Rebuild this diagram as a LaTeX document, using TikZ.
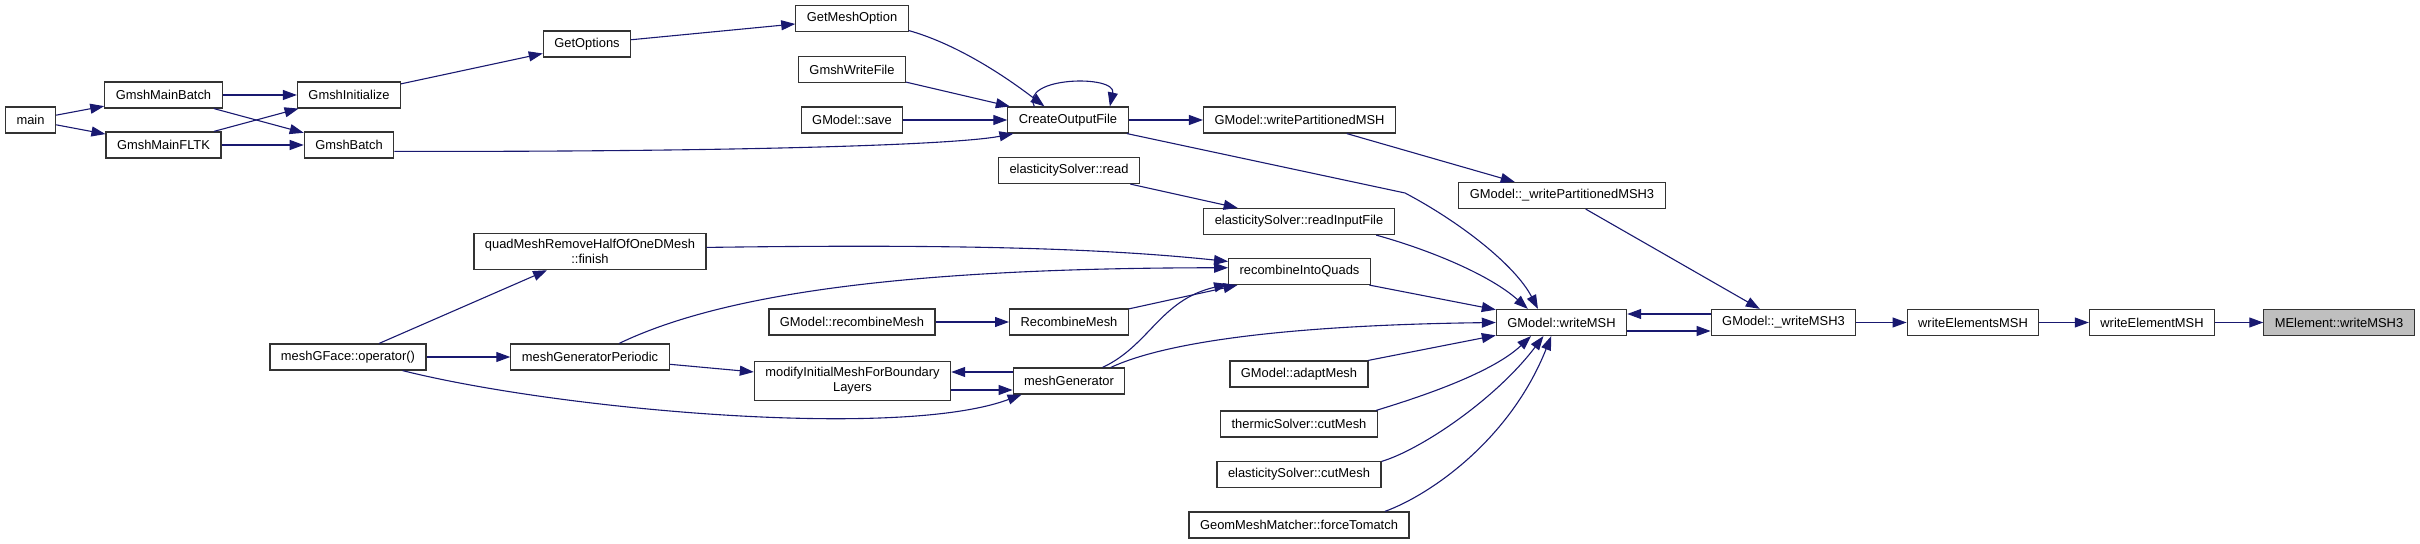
\documentclass[tikz,border=0pt]{standalone}
\usepackage{fontspec}
\setmainfont{Liberation Sans}
\usetikzlibrary{arrows.meta}
\definecolor{edgeblue}{HTML}{191970}

\begin{document}
\begin{tikzpicture}[
    x=0.5pt, y=-0.5pt,
    >={Triangle[length=7pt,width=5pt]},
    fnbox/.style={draw=black!80, line width=0.6pt, fill=white,
        font=\fontsize{6.45}{7.4}\selectfont, inner xsep=5.5pt, inner ysep=3pt,
        minimum height=13pt, align=center},
    fncur/.style={fnbox, fill=black!25},
    callarrow/.style={->, draw=edgeblue, line width=0.55pt},
]
\useasboundingbox (0,0) rectangle (2420,544);

% Nodes, left to right
\node[fnbox] (main) at (30.5,120) {main};
\node[fnbox] (gmb) at (163.5,95) {GmshMainBatch};
\node[fnbox] (gmf) at (163.5,145) {GmshMainFLTK};
\node[fnbox] (ginit) at (349,95) {GmshInitialize};
\node[fnbox] (gbatch) at (349,145) {GmshBatch};
\node[fnbox] (getopt) at (587,44) {GetOptions};
\node[fnbox] (getmesh) at (852,18.5) {GetMeshOption};
\node[fnbox] (gwrite) at (852,69.5) {GmshWriteFile};
\node[fnbox] (gsave) at (852,120) {GModel::save};
\node[fnbox] (cof) at (1068,120) {CreateOutputFile};
\node[fnbox] (wpmsh) at (1299.5,120) {GModel::writePartitionedMSH};
\node[fnbox] (esread) at (1069,170.5) {elasticitySolver::read};
\node[fnbox] (wpmsh3) at (1562,195.5) {GModel::\_writePartitionedMSH3};
\node[fnbox] (esinput) at (1299,221.5) {elasticitySolver::readInputFile};
\node[fnbox] (quad) at (590,251.5) {quadMeshRemoveHalfOfOneDMesh\\::finish};
\node[fnbox] (riq) at (1299.5,271.5) {recombineIntoQuads};
\node[fnbox] (grecomb) at (852,322) {GModel::recombineMesh};
\node[fnbox] (recomb) at (1069,322) {RecombineMesh};
\node[fnbox] (wmsh) at (1561.5,322.5) {GModel::writeMSH};
\node[fnbox] (wmsh3) at (1783.5,322.5) {GModel::\_writeMSH3};
\node[fnbox] (welems) at (1973,322.5) {writeElementsMSH};
\node[fnbox] (welem) at (2152,322.5) {writeElementMSH};
\node[fncur] (melem) at (2339,322.5) {MElement::writeMSH3};
\node[fnbox] (mgface) at (348,357) {meshGFace::operator()};
\node[fnbox] (mgper) at (590,357) {meshGeneratorPeriodic};
\node[fnbox] (modinit) at (852.5,381) {modifyInitialMeshForBoundary\\Layers};
\node[fnbox] (mgen) at (1069,381) {meshGenerator};
\node[fnbox] (adapt) at (1299,374) {GModel::adaptMesh};
\node[fnbox] (thermic) at (1299,424) {thermicSolver::cutMesh};
\node[fnbox] (escut) at (1299,474.5) {elasticitySolver::cutMesh};
\node[fnbox] (geomm) at (1299,525) {GeomMeshMatcher::forceTomatch};

% main and the batch / GUI entry points
\draw[callarrow] (main) -- (gmb);
\draw[callarrow] (main) -- (gmf);
\draw[callarrow] (gmb) -- (ginit);
\draw[callarrow] (gmb) -- (gbatch);
\draw[callarrow] (gmf) -- (ginit);
\draw[callarrow] (gmf) -- (gbatch);
\draw[callarrow] (ginit) -- (getopt);
\draw[callarrow] (getopt) -- (getmesh);

% into CreateOutputFile
\draw[callarrow] (getmesh.-12) .. controls (960,45) and (1010,80) .. (cof.150);
\draw[callarrow] (gwrite) -- (cof);
\draw[callarrow] (gsave) -- (cof);
\draw[callarrow] (gbatch.-8) .. controls (700,152) and (950,146) .. (cof.194);
\draw[callarrow] (cof.158) .. controls +(-15,-30) and +(7,-32) .. (cof.18);
\draw[callarrow] (cof) -- (wpmsh);
\draw[callarrow] (cof.-13) -- (1405,193) .. controls (1460,222) and (1515,265) .. (wmsh.150);

% partitioned writer
\draw[callarrow] (wpmsh) -- (wpmsh3);
\draw[callarrow] (wpmsh3) -- (wmsh3);
\draw[callarrow] (esread) -- (esinput);
\draw[callarrow] (esinput.-10) .. controls (1430,250) and (1490,275) .. (wmsh.158);

% recombination callers
\draw[callarrow] (quad.2) .. controls (950,244) and (1100,248) .. (riq.172);
\draw[callarrow] (mgper.25) .. controls (720,295) and (900,268) .. (riq.177);
\draw[callarrow] (recomb) -- (riq);
\draw[callarrow] (mgen.22) .. controls (1150,345) and (1160,300) .. (riq.190);
\draw[callarrow] (grecomb) -- (recomb);
\draw[callarrow] (riq) -- (wmsh);
\draw[callarrow] (mgen.18) .. controls (1170,340) and (1300,325) .. (wmsh.west);

% meshGFace branch
\draw[callarrow] (mgface) -- (quad);
\draw[callarrow] (mgface) -- (mgper);
\draw[callarrow] (mgface.-14) .. controls (560,410) and (900,440) .. (mgen.196);
\draw[callarrow] (mgper) -- (modinit);
\draw[callarrow] ([yshift=-4.5pt]modinit.east) -- ([yshift=-4.5pt]mgen.west);
\draw[callarrow] ([yshift=4.5pt]mgen.west) -- ([yshift=4.5pt]modinit.east);

% other writeMSH callers
\draw[callarrow] (adapt) -- (wmsh);
\draw[callarrow] (thermic.10) .. controls (1410,400) and (1490,375) .. (wmsh.204);
\draw[callarrow] (escut.9) .. controls (1420,450) and (1495,400) .. (wmsh.217);
\draw[callarrow] (geomm.9) .. controls (1430,495) and (1510,440) .. (wmsh.233);

% writeMSH down to the element writer
\draw[callarrow] ([yshift=-4.25pt]wmsh.east) -- ([yshift=-4.25pt]wmsh3.west);
\draw[callarrow] ([yshift=4.25pt]wmsh3.west) -- ([yshift=4.25pt]wmsh.east);
\draw[callarrow] (wmsh3) -- (welems);
\draw[callarrow] (welems) -- (welem);
\draw[callarrow] (welem) -- (melem);

\end{tikzpicture}
\end{document}
